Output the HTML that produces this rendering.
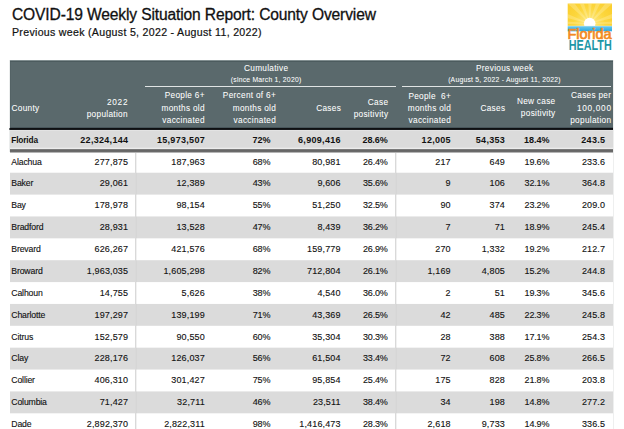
<!DOCTYPE html>
<html lang="en"><head><meta charset="utf-8"><title>COVID-19 Weekly Situation Report: County Overview</title>
<style>
html,body{margin:0;padding:0;background:#fff;}
body{width:624px;height:429px;overflow:hidden;position:relative;font-family:"Liberation Sans", sans-serif;color:#000;}
.t{position:absolute;white-space:pre;}
.b{position:absolute;}
</style></head><body>

<div class="t" style="top:5px;font-size:15.6px;line-height:19px;color:#111;letter-spacing:-0.14px;-webkit-text-stroke:0.3px #111;left:12.00px;">COVID-19 Weekly Situation Report: County Overview</div>
<div class="t" style="top:25px;font-size:10.6px;line-height:14px;color:#111;letter-spacing:0.3px;-webkit-text-stroke:0.2px #111;left:12.00px;">Previous week (August 5, 2022 - August 11, 2022)</div>
<svg class="b" style="left:567px;top:3px;" width="46" height="48" viewBox="0 0 46 48">
<defs>
<radialGradient id="sg" gradientUnits="userSpaceOnUse" cx="22.7" cy="20.6" r="26"><stop offset="0" stop-color="#fff0a0"/><stop offset="0.3" stop-color="#fde166"/><stop offset="0.6" stop-color="#fcd73f"/><stop offset="1" stop-color="#fbcf30"/></radialGradient>
<linearGradient id="wg" x1="0" y1="0" x2="0" y2="1"><stop offset="0" stop-color="#a8e0f5"/><stop offset="0.25" stop-color="#5cc2ec"/><stop offset="1" stop-color="#27a9e1"/></linearGradient>
<clipPath id="cp"><rect x="0.7" y="0.5" width="44.3" height="22.4"/></clipPath>
</defs>
<rect x="0.7" y="0.5" width="44.3" height="22.4" fill="url(#sg)"/>
<g clip-path="url(#cp)" fill="#fff8cc" opacity="0.28">
<path d="M22.7 20.6 L-4 14 L-4 9 Z"/><path d="M22.7 20.6 L0 0 L5 -3 Z"/><path d="M22.7 20.6 L11 -3 L16 -3 Z"/><path d="M22.7 20.6 L21 -3 L25 -3 Z"/><path d="M22.7 20.6 L30 -3 L35 -3 Z"/><path d="M22.7 20.6 L41 -3 L46 0 Z"/><path d="M22.7 20.6 L50 9 L50 14 Z"/><path d="M22.7 20.6 L-4 21 L-4 18 Z"/><path d="M22.7 20.6 L50 21 L50 18 Z"/>
</g>
<circle cx="22.7" cy="20.6" r="5.8" fill="#fff"/>
<rect x="0.7" y="22.9" width="44.3" height="5.4" fill="url(#wg)"/>
<text x="0.4" y="35.8" font-family="Liberation Sans, sans-serif" font-size="15" fill="#f28a22" stroke="#f28a22" stroke-width="0.7" textLength="44.3" lengthAdjust="spacingAndGlyphs">Florida</text>
<text x="1.7" y="47" font-family="Liberation Sans, sans-serif" font-size="14" font-weight="700" fill="#1d97a6" textLength="43.0" lengthAdjust="spacingAndGlyphs">HEALTH</text>
</svg>

<div class="b" style="left:10px;top:60px;width:603px;height:369px;background:linear-gradient(to bottom,#828f91 0px,#828f91 1px,#4c5b5e 1px,#4c5b5e 2px,#5a696c 2px,#5a696c 67px,#47555a 67px,#47555a 68px,#0e1012 68px,#0e1012 69px,#17191c 69px,#17191c 70px,#e3e3e3 70px,#e3e3e3 71px,#dbdbdb 71px,#dbdbdb 87px,#e0e0e0 87px,#e0e0e0 88px,#ececec 88px,#ececec 89px,#7b7b7b 89px,#7b7b7b 90px,#666666 90px,#666666 91px,#6a6a6a 91px,#6a6a6a 92px,#b4b4b4 92px,#b4b4b4 93px,#ffffff 93px,#ffffff 112px,#f5f5f5 112px,#f5f5f5 113px,#dbdbdb 113px,#dbdbdb 134px,#e9e9e9 134px,#e9e9e9 135px,#ffffff 135px,#ffffff 156px,#ebebeb 156px,#ebebeb 157px,#dbdbdb 157px,#dbdbdb 178px,#f3f3f3 178px,#f3f3f3 179px,#ffffff 179px,#ffffff 200px,#e2e2e2 200px,#e2e2e2 201px,#dbdbdb 201px,#dbdbdb 222px,#fcfcfc 222px,#fcfcfc 223px,#ffffff 223px,#ffffff 243px,#fdfdfd 243px,#fdfdfd 244px,#dbdbdb 244px,#dbdbdb 265px,#e2e2e2 265px,#e2e2e2 266px,#ffffff 266px,#ffffff 287px,#f3f3f3 287px,#f3f3f3 288px,#dbdbdb 288px,#dbdbdb 309px,#ebebeb 309px,#ebebeb 310px,#ffffff 310px,#ffffff 331px,#eaeaea 331px,#eaeaea 332px,#dbdbdb 332px,#dbdbdb 353px,#f4f4f4 353px,#f4f4f4 354px,#ffffff 354px,#ffffff 369px);"></div>
<div class="b" style="left:10px;top:62px;width:1px;height:65px;background:#546366;"></div>
<div class="b" style="left:9px;top:60px;width:1px;height:92px;background:rgba(90,105,108,0.12);"></div>
<div class="b" style="left:9px;top:128px;width:1px;height:2px;background:#6d6f71;"></div>
<div class="b" style="left:613px;top:60px;width:1px;height:369px;background:rgba(90,100,102,0.1);"></div>
<div class="b" style="left:145px;top:86px;width:251px;height:1px;background:#e0e4e4;"></div>
<div class="b" style="left:402px;top:86px;width:209px;height:1px;background:#e0e4e4;"></div>
<div class="b" style="left:135px;top:153px;width:1px;height:276px;background:#d9d9d9;"></div>
<div class="b" style="left:136px;top:153px;width:1px;height:276px;background:rgba(200,200,200,0.25);"></div>
<div class="b" style="left:395px;top:153px;width:1px;height:276px;background:#d9d9d9;"></div>
<div class="b" style="left:396px;top:153px;width:1px;height:276px;background:rgba(200,200,200,0.25);"></div>
<div class="t" style="top:103px;font-size:8.25px;line-height:11px;color:#fff;letter-spacing:0.3px;-webkit-text-stroke:0.05px #fff;left:11.50px;">County</div>
<div class="t" style="top:97px;font-size:8.25px;line-height:11px;color:#fff;letter-spacing:0.7px;-webkit-text-stroke:0.05px #fff;right:495.80px;">2022</div>
<div class="t" style="top:109px;font-size:8.25px;line-height:11px;color:#fff;letter-spacing:0.3px;-webkit-text-stroke:0.05px #fff;right:496.20px;">population</div>
<div class="t" style="top:90px;font-size:8.25px;line-height:11px;color:#fff;letter-spacing:0.3px;-webkit-text-stroke:0.05px #fff;right:419.20px;">People 6+</div>
<div class="t" style="top:103px;font-size:8.25px;line-height:11px;color:#fff;letter-spacing:0.3px;-webkit-text-stroke:0.05px #fff;right:419.20px;">months old</div>
<div class="t" style="top:115px;font-size:8.25px;line-height:11px;color:#fff;letter-spacing:0.3px;-webkit-text-stroke:0.05px #fff;right:419.20px;">vaccinated</div>
<div class="t" style="top:91px;font-size:8.25px;line-height:11px;color:#fff;letter-spacing:0.3px;-webkit-text-stroke:0.05px #fff;right:172.95px;">People  6+</div>
<div class="t" style="top:103px;font-size:8.25px;line-height:11px;color:#fff;letter-spacing:0.3px;-webkit-text-stroke:0.05px #fff;right:172.95px;">months old</div>
<div class="t" style="top:115px;font-size:8.25px;line-height:11px;color:#fff;letter-spacing:0.3px;-webkit-text-stroke:0.05px #fff;right:172.95px;">vaccinated</div>
<div class="t" style="top:90px;font-size:8.25px;line-height:11px;color:#fff;letter-spacing:0.3px;-webkit-text-stroke:0.05px #fff;right:347.95px;">Percent of 6+</div>
<div class="t" style="top:103px;font-size:8.25px;line-height:11px;color:#fff;letter-spacing:0.3px;-webkit-text-stroke:0.05px #fff;right:347.95px;">months old</div>
<div class="t" style="top:115px;font-size:8.25px;line-height:11px;color:#fff;letter-spacing:0.3px;-webkit-text-stroke:0.05px #fff;right:347.95px;">vaccinated</div>
<div class="t" style="top:103px;font-size:8.25px;line-height:11px;color:#fff;letter-spacing:0.3px;-webkit-text-stroke:0.05px #fff;right:282.95px;">Cases</div>
<div class="t" style="top:97px;font-size:8.25px;line-height:11px;color:#fff;letter-spacing:0.3px;-webkit-text-stroke:0.05px #fff;right:235.70px;">Case</div>
<div class="t" style="top:109px;font-size:8.25px;line-height:11px;color:#fff;letter-spacing:0.3px;-webkit-text-stroke:0.05px #fff;right:235.70px;">positivity</div>
<div class="t" style="top:103px;font-size:8.25px;line-height:11px;color:#fff;letter-spacing:0.3px;-webkit-text-stroke:0.05px #fff;right:118.70px;">Cases</div>
<div class="t" style="top:96px;font-size:8.25px;line-height:11px;color:#fff;letter-spacing:0.3px;-webkit-text-stroke:0.05px #fff;right:68.50px;">New case</div>
<div class="t" style="top:108px;font-size:8.25px;line-height:11px;color:#fff;letter-spacing:0.3px;-webkit-text-stroke:0.05px #fff;right:68.50px;">positivity</div>
<div class="t" style="top:90px;font-size:8.25px;line-height:11px;color:#fff;letter-spacing:0.3px;-webkit-text-stroke:0.05px #fff;right:12.70px;">Cases per</div>
<div class="t" style="top:103px;font-size:8.25px;line-height:11px;color:#fff;letter-spacing:0.7px;-webkit-text-stroke:0.05px #fff;right:12.30px;">100,000</div>
<div class="t" style="top:115px;font-size:8.25px;line-height:11px;color:#fff;letter-spacing:0.3px;-webkit-text-stroke:0.05px #fff;right:12.70px;">population</div>
<div class="t" style="top:63px;font-size:8.25px;line-height:11px;color:#fff;letter-spacing:0.3px;-webkit-text-stroke:0.05px #fff;left:66.15px;width:400px;text-align:center;">Cumulative</div>
<div class="t" style="top:75px;font-size:6.8px;line-height:9px;color:#fff;letter-spacing:0.23px;-webkit-text-stroke:0.05px #fff;left:66.11px;width:400px;text-align:center;">(since March 1, 2020)</div>
<div class="t" style="top:63px;font-size:8.25px;line-height:11px;color:#fff;letter-spacing:0.3px;-webkit-text-stroke:0.05px #fff;left:304.75px;width:400px;text-align:center;">Previous week</div>
<div class="t" style="top:75px;font-size:6.8px;line-height:9px;color:#fff;letter-spacing:0.23px;-webkit-text-stroke:0.05px #fff;left:304.51px;width:400px;text-align:center;">(August 5, 2022 - August 11, 2022)</div>
<div class="t" style="top:134px;font-size:8.3px;line-height:12px;font-weight:700;color:#111;letter-spacing:-0.15px;left:11.30px;">Florida</div>
<div class="t" style="top:134px;font-size:9px;line-height:12px;font-weight:700;color:#111;letter-spacing:0.3px;right:495.70px;">22,324,144</div>
<div class="t" style="top:134px;font-size:9px;line-height:12px;font-weight:700;color:#111;letter-spacing:0.3px;right:419.00px;">15,973,507</div>
<div class="t" style="top:134px;font-size:9px;line-height:12px;font-weight:700;color:#111;letter-spacing:-0.030000000000000027px;right:353.63px;">72%</div>
<div class="t" style="top:134px;font-size:9px;line-height:12px;font-weight:700;color:#111;letter-spacing:0.3px;right:283.20px;">6,909,416</div>
<div class="t" style="top:134px;font-size:9px;line-height:12px;font-weight:700;color:#111;letter-spacing:-0.030000000000000027px;right:236.23px;">28.6%</div>
<div class="t" style="top:134px;font-size:9px;line-height:12px;font-weight:700;color:#111;letter-spacing:0.3px;right:173.10px;">12,005</div>
<div class="t" style="top:134px;font-size:9px;line-height:12px;font-weight:700;color:#111;letter-spacing:0.3px;right:118.90px;">54,353</div>
<div class="t" style="top:134px;font-size:9px;line-height:12px;font-weight:700;color:#111;letter-spacing:-0.030000000000000027px;right:74.63px;">18.4%</div>
<div class="t" style="top:134px;font-size:9px;line-height:12px;font-weight:700;color:#111;letter-spacing:0.3px;right:18.70px;">243.5</div>
<div class="t" style="top:156px;font-size:8.7px;line-height:12px;color:#111;letter-spacing:-0.15px;-webkit-text-stroke:0.12px #111;left:11.30px;">Alachua</div>
<div class="t" style="top:156px;font-size:9px;line-height:12px;color:#111;letter-spacing:0.15px;-webkit-text-stroke:0.12px #111;right:495.85px;">277,875</div>
<div class="t" style="top:156px;font-size:9px;line-height:12px;color:#111;letter-spacing:0.15px;-webkit-text-stroke:0.12px #111;right:419.15px;">187,963</div>
<div class="t" style="top:156px;font-size:9px;line-height:12px;color:#111;letter-spacing:-0.18000000000000002px;-webkit-text-stroke:0.12px #111;right:353.78px;">68%</div>
<div class="t" style="top:156px;font-size:9px;line-height:12px;color:#111;letter-spacing:0.15px;-webkit-text-stroke:0.12px #111;right:283.35px;">80,981</div>
<div class="t" style="top:156px;font-size:9px;line-height:12px;color:#111;letter-spacing:-0.18000000000000002px;-webkit-text-stroke:0.12px #111;right:236.38px;">26.4%</div>
<div class="t" style="top:156px;font-size:9px;line-height:12px;color:#111;letter-spacing:0.15px;-webkit-text-stroke:0.12px #111;right:173.25px;">217</div>
<div class="t" style="top:156px;font-size:9px;line-height:12px;color:#111;letter-spacing:0.15px;-webkit-text-stroke:0.12px #111;right:119.05px;">649</div>
<div class="t" style="top:156px;font-size:9px;line-height:12px;color:#111;letter-spacing:-0.18000000000000002px;-webkit-text-stroke:0.12px #111;right:74.78px;">19.6%</div>
<div class="t" style="top:156px;font-size:9px;line-height:12px;color:#111;letter-spacing:0.15px;-webkit-text-stroke:0.12px #111;right:18.85px;">233.6</div>
<div class="t" style="top:177px;font-size:8.7px;line-height:12px;color:#111;letter-spacing:-0.15px;-webkit-text-stroke:0.12px #111;left:11.30px;">Baker</div>
<div class="t" style="top:177px;font-size:9px;line-height:12px;color:#111;letter-spacing:0.15px;-webkit-text-stroke:0.12px #111;right:495.85px;">29,061</div>
<div class="t" style="top:177px;font-size:9px;line-height:12px;color:#111;letter-spacing:0.15px;-webkit-text-stroke:0.12px #111;right:419.15px;">12,389</div>
<div class="t" style="top:177px;font-size:9px;line-height:12px;color:#111;letter-spacing:-0.18000000000000002px;-webkit-text-stroke:0.12px #111;right:353.78px;">43%</div>
<div class="t" style="top:177px;font-size:9px;line-height:12px;color:#111;letter-spacing:0.15px;-webkit-text-stroke:0.12px #111;right:283.35px;">9,606</div>
<div class="t" style="top:177px;font-size:9px;line-height:12px;color:#111;letter-spacing:-0.18000000000000002px;-webkit-text-stroke:0.12px #111;right:236.38px;">35.6%</div>
<div class="t" style="top:177px;font-size:9px;line-height:12px;color:#111;letter-spacing:0.15px;-webkit-text-stroke:0.12px #111;right:173.25px;">9</div>
<div class="t" style="top:177px;font-size:9px;line-height:12px;color:#111;letter-spacing:0.15px;-webkit-text-stroke:0.12px #111;right:119.05px;">106</div>
<div class="t" style="top:177px;font-size:9px;line-height:12px;color:#111;letter-spacing:-0.18000000000000002px;-webkit-text-stroke:0.12px #111;right:74.78px;">32.1%</div>
<div class="t" style="top:177px;font-size:9px;line-height:12px;color:#111;letter-spacing:0.15px;-webkit-text-stroke:0.12px #111;right:18.85px;">364.8</div>
<div class="t" style="top:199px;font-size:8.7px;line-height:12px;color:#111;letter-spacing:-0.15px;-webkit-text-stroke:0.12px #111;left:11.30px;">Bay</div>
<div class="t" style="top:199px;font-size:9px;line-height:12px;color:#111;letter-spacing:0.15px;-webkit-text-stroke:0.12px #111;right:495.85px;">178,978</div>
<div class="t" style="top:199px;font-size:9px;line-height:12px;color:#111;letter-spacing:0.15px;-webkit-text-stroke:0.12px #111;right:419.15px;">98,154</div>
<div class="t" style="top:199px;font-size:9px;line-height:12px;color:#111;letter-spacing:-0.18000000000000002px;-webkit-text-stroke:0.12px #111;right:353.78px;">55%</div>
<div class="t" style="top:199px;font-size:9px;line-height:12px;color:#111;letter-spacing:0.15px;-webkit-text-stroke:0.12px #111;right:283.35px;">51,250</div>
<div class="t" style="top:199px;font-size:9px;line-height:12px;color:#111;letter-spacing:-0.18000000000000002px;-webkit-text-stroke:0.12px #111;right:236.38px;">32.5%</div>
<div class="t" style="top:199px;font-size:9px;line-height:12px;color:#111;letter-spacing:0.15px;-webkit-text-stroke:0.12px #111;right:173.25px;">90</div>
<div class="t" style="top:199px;font-size:9px;line-height:12px;color:#111;letter-spacing:0.15px;-webkit-text-stroke:0.12px #111;right:119.05px;">374</div>
<div class="t" style="top:199px;font-size:9px;line-height:12px;color:#111;letter-spacing:-0.18000000000000002px;-webkit-text-stroke:0.12px #111;right:74.78px;">23.2%</div>
<div class="t" style="top:199px;font-size:9px;line-height:12px;color:#111;letter-spacing:0.15px;-webkit-text-stroke:0.12px #111;right:18.85px;">209.0</div>
<div class="t" style="top:221px;font-size:8.7px;line-height:12px;color:#111;letter-spacing:-0.15px;-webkit-text-stroke:0.12px #111;left:11.30px;">Bradford</div>
<div class="t" style="top:221px;font-size:9px;line-height:12px;color:#111;letter-spacing:0.15px;-webkit-text-stroke:0.12px #111;right:495.85px;">28,931</div>
<div class="t" style="top:221px;font-size:9px;line-height:12px;color:#111;letter-spacing:0.15px;-webkit-text-stroke:0.12px #111;right:419.15px;">13,528</div>
<div class="t" style="top:221px;font-size:9px;line-height:12px;color:#111;letter-spacing:-0.18000000000000002px;-webkit-text-stroke:0.12px #111;right:353.78px;">47%</div>
<div class="t" style="top:221px;font-size:9px;line-height:12px;color:#111;letter-spacing:0.15px;-webkit-text-stroke:0.12px #111;right:283.35px;">8,439</div>
<div class="t" style="top:221px;font-size:9px;line-height:12px;color:#111;letter-spacing:-0.18000000000000002px;-webkit-text-stroke:0.12px #111;right:236.38px;">36.2%</div>
<div class="t" style="top:221px;font-size:9px;line-height:12px;color:#111;letter-spacing:0.15px;-webkit-text-stroke:0.12px #111;right:173.25px;">7</div>
<div class="t" style="top:221px;font-size:9px;line-height:12px;color:#111;letter-spacing:0.15px;-webkit-text-stroke:0.12px #111;right:119.05px;">71</div>
<div class="t" style="top:221px;font-size:9px;line-height:12px;color:#111;letter-spacing:-0.18000000000000002px;-webkit-text-stroke:0.12px #111;right:74.78px;">18.9%</div>
<div class="t" style="top:221px;font-size:9px;line-height:12px;color:#111;letter-spacing:0.15px;-webkit-text-stroke:0.12px #111;right:18.85px;">245.4</div>
<div class="t" style="top:243px;font-size:8.7px;line-height:12px;color:#111;letter-spacing:-0.15px;-webkit-text-stroke:0.12px #111;left:11.30px;">Brevard</div>
<div class="t" style="top:243px;font-size:9px;line-height:12px;color:#111;letter-spacing:0.15px;-webkit-text-stroke:0.12px #111;right:495.85px;">626,267</div>
<div class="t" style="top:243px;font-size:9px;line-height:12px;color:#111;letter-spacing:0.15px;-webkit-text-stroke:0.12px #111;right:419.15px;">421,576</div>
<div class="t" style="top:243px;font-size:9px;line-height:12px;color:#111;letter-spacing:-0.18000000000000002px;-webkit-text-stroke:0.12px #111;right:353.78px;">68%</div>
<div class="t" style="top:243px;font-size:9px;line-height:12px;color:#111;letter-spacing:0.15px;-webkit-text-stroke:0.12px #111;right:283.35px;">159,779</div>
<div class="t" style="top:243px;font-size:9px;line-height:12px;color:#111;letter-spacing:-0.18000000000000002px;-webkit-text-stroke:0.12px #111;right:236.38px;">26.9%</div>
<div class="t" style="top:243px;font-size:9px;line-height:12px;color:#111;letter-spacing:0.15px;-webkit-text-stroke:0.12px #111;right:173.25px;">270</div>
<div class="t" style="top:243px;font-size:9px;line-height:12px;color:#111;letter-spacing:0.15px;-webkit-text-stroke:0.12px #111;right:119.05px;">1,332</div>
<div class="t" style="top:243px;font-size:9px;line-height:12px;color:#111;letter-spacing:-0.18000000000000002px;-webkit-text-stroke:0.12px #111;right:74.78px;">19.2%</div>
<div class="t" style="top:243px;font-size:9px;line-height:12px;color:#111;letter-spacing:0.15px;-webkit-text-stroke:0.12px #111;right:18.85px;">212.7</div>
<div class="t" style="top:265px;font-size:8.7px;line-height:12px;color:#111;letter-spacing:-0.15px;-webkit-text-stroke:0.12px #111;left:11.30px;">Broward</div>
<div class="t" style="top:265px;font-size:9px;line-height:12px;color:#111;letter-spacing:0.15px;-webkit-text-stroke:0.12px #111;right:495.85px;">1,963,035</div>
<div class="t" style="top:265px;font-size:9px;line-height:12px;color:#111;letter-spacing:0.15px;-webkit-text-stroke:0.12px #111;right:419.15px;">1,605,298</div>
<div class="t" style="top:265px;font-size:9px;line-height:12px;color:#111;letter-spacing:-0.18000000000000002px;-webkit-text-stroke:0.12px #111;right:353.78px;">82%</div>
<div class="t" style="top:265px;font-size:9px;line-height:12px;color:#111;letter-spacing:0.15px;-webkit-text-stroke:0.12px #111;right:283.35px;">712,804</div>
<div class="t" style="top:265px;font-size:9px;line-height:12px;color:#111;letter-spacing:-0.18000000000000002px;-webkit-text-stroke:0.12px #111;right:236.38px;">26.1%</div>
<div class="t" style="top:265px;font-size:9px;line-height:12px;color:#111;letter-spacing:0.15px;-webkit-text-stroke:0.12px #111;right:173.25px;">1,169</div>
<div class="t" style="top:265px;font-size:9px;line-height:12px;color:#111;letter-spacing:0.15px;-webkit-text-stroke:0.12px #111;right:119.05px;">4,805</div>
<div class="t" style="top:265px;font-size:9px;line-height:12px;color:#111;letter-spacing:-0.18000000000000002px;-webkit-text-stroke:0.12px #111;right:74.78px;">15.2%</div>
<div class="t" style="top:265px;font-size:9px;line-height:12px;color:#111;letter-spacing:0.15px;-webkit-text-stroke:0.12px #111;right:18.85px;">244.8</div>
<div class="t" style="top:287px;font-size:8.7px;line-height:12px;color:#111;letter-spacing:-0.15px;-webkit-text-stroke:0.12px #111;left:11.30px;">Calhoun</div>
<div class="t" style="top:287px;font-size:9px;line-height:12px;color:#111;letter-spacing:0.15px;-webkit-text-stroke:0.12px #111;right:495.85px;">14,755</div>
<div class="t" style="top:287px;font-size:9px;line-height:12px;color:#111;letter-spacing:0.15px;-webkit-text-stroke:0.12px #111;right:419.15px;">5,626</div>
<div class="t" style="top:287px;font-size:9px;line-height:12px;color:#111;letter-spacing:-0.18000000000000002px;-webkit-text-stroke:0.12px #111;right:353.78px;">38%</div>
<div class="t" style="top:287px;font-size:9px;line-height:12px;color:#111;letter-spacing:0.15px;-webkit-text-stroke:0.12px #111;right:283.35px;">4,540</div>
<div class="t" style="top:287px;font-size:9px;line-height:12px;color:#111;letter-spacing:-0.18000000000000002px;-webkit-text-stroke:0.12px #111;right:236.38px;">36.0%</div>
<div class="t" style="top:287px;font-size:9px;line-height:12px;color:#111;letter-spacing:0.15px;-webkit-text-stroke:0.12px #111;right:173.25px;">2</div>
<div class="t" style="top:287px;font-size:9px;line-height:12px;color:#111;letter-spacing:0.15px;-webkit-text-stroke:0.12px #111;right:119.05px;">51</div>
<div class="t" style="top:287px;font-size:9px;line-height:12px;color:#111;letter-spacing:-0.18000000000000002px;-webkit-text-stroke:0.12px #111;right:74.78px;">19.3%</div>
<div class="t" style="top:287px;font-size:9px;line-height:12px;color:#111;letter-spacing:0.15px;-webkit-text-stroke:0.12px #111;right:18.85px;">345.6</div>
<div class="t" style="top:309px;font-size:8.7px;line-height:12px;color:#111;letter-spacing:-0.15px;-webkit-text-stroke:0.12px #111;left:11.30px;">Charlotte</div>
<div class="t" style="top:309px;font-size:9px;line-height:12px;color:#111;letter-spacing:0.15px;-webkit-text-stroke:0.12px #111;right:495.85px;">197,297</div>
<div class="t" style="top:309px;font-size:9px;line-height:12px;color:#111;letter-spacing:0.15px;-webkit-text-stroke:0.12px #111;right:419.15px;">139,199</div>
<div class="t" style="top:309px;font-size:9px;line-height:12px;color:#111;letter-spacing:-0.18000000000000002px;-webkit-text-stroke:0.12px #111;right:353.78px;">71%</div>
<div class="t" style="top:309px;font-size:9px;line-height:12px;color:#111;letter-spacing:0.15px;-webkit-text-stroke:0.12px #111;right:283.35px;">43,369</div>
<div class="t" style="top:309px;font-size:9px;line-height:12px;color:#111;letter-spacing:-0.18000000000000002px;-webkit-text-stroke:0.12px #111;right:236.38px;">26.5%</div>
<div class="t" style="top:309px;font-size:9px;line-height:12px;color:#111;letter-spacing:0.15px;-webkit-text-stroke:0.12px #111;right:173.25px;">42</div>
<div class="t" style="top:309px;font-size:9px;line-height:12px;color:#111;letter-spacing:0.15px;-webkit-text-stroke:0.12px #111;right:119.05px;">485</div>
<div class="t" style="top:309px;font-size:9px;line-height:12px;color:#111;letter-spacing:-0.18000000000000002px;-webkit-text-stroke:0.12px #111;right:74.78px;">22.3%</div>
<div class="t" style="top:309px;font-size:9px;line-height:12px;color:#111;letter-spacing:0.15px;-webkit-text-stroke:0.12px #111;right:18.85px;">245.8</div>
<div class="t" style="top:331px;font-size:8.7px;line-height:12px;color:#111;letter-spacing:-0.15px;-webkit-text-stroke:0.12px #111;left:11.30px;">Citrus</div>
<div class="t" style="top:331px;font-size:9px;line-height:12px;color:#111;letter-spacing:0.15px;-webkit-text-stroke:0.12px #111;right:495.85px;">152,579</div>
<div class="t" style="top:331px;font-size:9px;line-height:12px;color:#111;letter-spacing:0.15px;-webkit-text-stroke:0.12px #111;right:419.15px;">90,550</div>
<div class="t" style="top:331px;font-size:9px;line-height:12px;color:#111;letter-spacing:-0.18000000000000002px;-webkit-text-stroke:0.12px #111;right:353.78px;">60%</div>
<div class="t" style="top:331px;font-size:9px;line-height:12px;color:#111;letter-spacing:0.15px;-webkit-text-stroke:0.12px #111;right:283.35px;">35,304</div>
<div class="t" style="top:331px;font-size:9px;line-height:12px;color:#111;letter-spacing:-0.18000000000000002px;-webkit-text-stroke:0.12px #111;right:236.38px;">30.3%</div>
<div class="t" style="top:331px;font-size:9px;line-height:12px;color:#111;letter-spacing:0.15px;-webkit-text-stroke:0.12px #111;right:173.25px;">28</div>
<div class="t" style="top:331px;font-size:9px;line-height:12px;color:#111;letter-spacing:0.15px;-webkit-text-stroke:0.12px #111;right:119.05px;">388</div>
<div class="t" style="top:331px;font-size:9px;line-height:12px;color:#111;letter-spacing:-0.18000000000000002px;-webkit-text-stroke:0.12px #111;right:74.78px;">17.1%</div>
<div class="t" style="top:331px;font-size:9px;line-height:12px;color:#111;letter-spacing:0.15px;-webkit-text-stroke:0.12px #111;right:18.85px;">254.3</div>
<div class="t" style="top:352px;font-size:8.7px;line-height:12px;color:#111;letter-spacing:-0.15px;-webkit-text-stroke:0.12px #111;left:11.30px;">Clay</div>
<div class="t" style="top:352px;font-size:9px;line-height:12px;color:#111;letter-spacing:0.15px;-webkit-text-stroke:0.12px #111;right:495.85px;">228,176</div>
<div class="t" style="top:352px;font-size:9px;line-height:12px;color:#111;letter-spacing:0.15px;-webkit-text-stroke:0.12px #111;right:419.15px;">126,037</div>
<div class="t" style="top:352px;font-size:9px;line-height:12px;color:#111;letter-spacing:-0.18000000000000002px;-webkit-text-stroke:0.12px #111;right:353.78px;">56%</div>
<div class="t" style="top:352px;font-size:9px;line-height:12px;color:#111;letter-spacing:0.15px;-webkit-text-stroke:0.12px #111;right:283.35px;">61,504</div>
<div class="t" style="top:352px;font-size:9px;line-height:12px;color:#111;letter-spacing:-0.18000000000000002px;-webkit-text-stroke:0.12px #111;right:236.38px;">33.4%</div>
<div class="t" style="top:352px;font-size:9px;line-height:12px;color:#111;letter-spacing:0.15px;-webkit-text-stroke:0.12px #111;right:173.25px;">72</div>
<div class="t" style="top:352px;font-size:9px;line-height:12px;color:#111;letter-spacing:0.15px;-webkit-text-stroke:0.12px #111;right:119.05px;">608</div>
<div class="t" style="top:352px;font-size:9px;line-height:12px;color:#111;letter-spacing:-0.18000000000000002px;-webkit-text-stroke:0.12px #111;right:74.78px;">25.8%</div>
<div class="t" style="top:352px;font-size:9px;line-height:12px;color:#111;letter-spacing:0.15px;-webkit-text-stroke:0.12px #111;right:18.85px;">266.5</div>
<div class="t" style="top:374px;font-size:8.7px;line-height:12px;color:#111;letter-spacing:-0.15px;-webkit-text-stroke:0.12px #111;left:11.30px;">Collier</div>
<div class="t" style="top:374px;font-size:9px;line-height:12px;color:#111;letter-spacing:0.15px;-webkit-text-stroke:0.12px #111;right:495.85px;">406,310</div>
<div class="t" style="top:374px;font-size:9px;line-height:12px;color:#111;letter-spacing:0.15px;-webkit-text-stroke:0.12px #111;right:419.15px;">301,427</div>
<div class="t" style="top:374px;font-size:9px;line-height:12px;color:#111;letter-spacing:-0.18000000000000002px;-webkit-text-stroke:0.12px #111;right:353.78px;">75%</div>
<div class="t" style="top:374px;font-size:9px;line-height:12px;color:#111;letter-spacing:0.15px;-webkit-text-stroke:0.12px #111;right:283.35px;">95,854</div>
<div class="t" style="top:374px;font-size:9px;line-height:12px;color:#111;letter-spacing:-0.18000000000000002px;-webkit-text-stroke:0.12px #111;right:236.38px;">25.4%</div>
<div class="t" style="top:374px;font-size:9px;line-height:12px;color:#111;letter-spacing:0.15px;-webkit-text-stroke:0.12px #111;right:173.25px;">175</div>
<div class="t" style="top:374px;font-size:9px;line-height:12px;color:#111;letter-spacing:0.15px;-webkit-text-stroke:0.12px #111;right:119.05px;">828</div>
<div class="t" style="top:374px;font-size:9px;line-height:12px;color:#111;letter-spacing:-0.18000000000000002px;-webkit-text-stroke:0.12px #111;right:74.78px;">21.8%</div>
<div class="t" style="top:374px;font-size:9px;line-height:12px;color:#111;letter-spacing:0.15px;-webkit-text-stroke:0.12px #111;right:18.85px;">203.8</div>
<div class="t" style="top:396px;font-size:8.7px;line-height:12px;color:#111;letter-spacing:-0.15px;-webkit-text-stroke:0.12px #111;left:11.30px;">Columbia</div>
<div class="t" style="top:396px;font-size:9px;line-height:12px;color:#111;letter-spacing:0.15px;-webkit-text-stroke:0.12px #111;right:495.85px;">71,427</div>
<div class="t" style="top:396px;font-size:9px;line-height:12px;color:#111;letter-spacing:0.15px;-webkit-text-stroke:0.12px #111;right:419.15px;">32,711</div>
<div class="t" style="top:396px;font-size:9px;line-height:12px;color:#111;letter-spacing:-0.18000000000000002px;-webkit-text-stroke:0.12px #111;right:353.78px;">46%</div>
<div class="t" style="top:396px;font-size:9px;line-height:12px;color:#111;letter-spacing:0.15px;-webkit-text-stroke:0.12px #111;right:283.35px;">23,511</div>
<div class="t" style="top:396px;font-size:9px;line-height:12px;color:#111;letter-spacing:-0.18000000000000002px;-webkit-text-stroke:0.12px #111;right:236.38px;">38.4%</div>
<div class="t" style="top:396px;font-size:9px;line-height:12px;color:#111;letter-spacing:0.15px;-webkit-text-stroke:0.12px #111;right:173.25px;">34</div>
<div class="t" style="top:396px;font-size:9px;line-height:12px;color:#111;letter-spacing:0.15px;-webkit-text-stroke:0.12px #111;right:119.05px;">198</div>
<div class="t" style="top:396px;font-size:9px;line-height:12px;color:#111;letter-spacing:-0.18000000000000002px;-webkit-text-stroke:0.12px #111;right:74.78px;">14.8%</div>
<div class="t" style="top:396px;font-size:9px;line-height:12px;color:#111;letter-spacing:0.15px;-webkit-text-stroke:0.12px #111;right:18.85px;">277.2</div>
<div class="t" style="top:418px;font-size:8.7px;line-height:12px;color:#111;letter-spacing:-0.15px;-webkit-text-stroke:0.12px #111;left:11.30px;">Dade</div>
<div class="t" style="top:418px;font-size:9px;line-height:12px;color:#111;letter-spacing:0.15px;-webkit-text-stroke:0.12px #111;right:495.85px;">2,892,370</div>
<div class="t" style="top:418px;font-size:9px;line-height:12px;color:#111;letter-spacing:0.15px;-webkit-text-stroke:0.12px #111;right:419.15px;">2,822,311</div>
<div class="t" style="top:418px;font-size:9px;line-height:12px;color:#111;letter-spacing:-0.18000000000000002px;-webkit-text-stroke:0.12px #111;right:353.78px;">98%</div>
<div class="t" style="top:418px;font-size:9px;line-height:12px;color:#111;letter-spacing:0.15px;-webkit-text-stroke:0.12px #111;right:283.35px;">1,416,473</div>
<div class="t" style="top:418px;font-size:9px;line-height:12px;color:#111;letter-spacing:-0.18000000000000002px;-webkit-text-stroke:0.12px #111;right:236.38px;">28.3%</div>
<div class="t" style="top:418px;font-size:9px;line-height:12px;color:#111;letter-spacing:0.15px;-webkit-text-stroke:0.12px #111;right:173.25px;">2,618</div>
<div class="t" style="top:418px;font-size:9px;line-height:12px;color:#111;letter-spacing:0.15px;-webkit-text-stroke:0.12px #111;right:119.05px;">9,733</div>
<div class="t" style="top:418px;font-size:9px;line-height:12px;color:#111;letter-spacing:-0.18000000000000002px;-webkit-text-stroke:0.12px #111;right:74.78px;">14.9%</div>
<div class="t" style="top:418px;font-size:9px;line-height:12px;color:#111;letter-spacing:0.15px;-webkit-text-stroke:0.12px #111;right:18.85px;">336.5</div>
</body></html>
